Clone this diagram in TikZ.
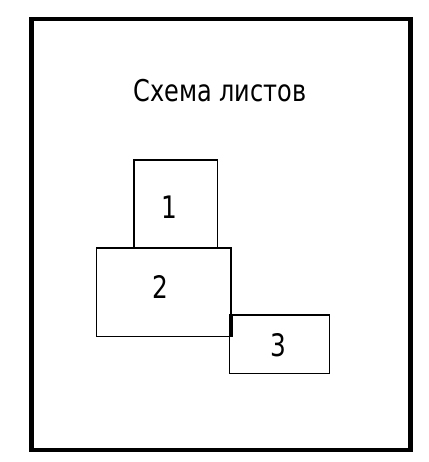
\documentclass[tikz,border=0pt]{standalone}
\usepackage{fontspec}
\setmainfont{DejaVu Sans}[FakeStretch=0.8]
\begin{document}
\begin{tikzpicture}[x=1pt,y=-1pt,
  sheet/.style={draw=black,line width=1.5pt,inner sep=0pt,anchor=north west},
  lbl/.style={font=\fontsize{31}{32}\selectfont,inner sep=0pt}]
\useasboundingbox (0,0) rectangle (428,462);
\fill[white] (0,0) rectangle (428,462);
\draw[line width=4.6pt] (31.7,19.2) rectangle (410.5,450);
\node[inner sep=0pt,font=\fontsize{30}{32}\selectfont] (title) at (220,91) {Схема листов};
\node[sheet,minimum width=83.4pt,minimum height=87.7pt] (s1) at (133.3,159.3) {};
\node[sheet,minimum width=134.6pt,minimum height=88.7pt] (s2) at (95.7,247) {};
\node[sheet,minimum width=100pt,minimum height=58.4pt] (s3) at (228.7,314.3) {};
\draw[line width=3pt] (s2.north east |- s3.north west) -- (s2.south east);
\node[lbl] (n1) at (169,207) {1};
\node[lbl] (n2) at (160,287) {2};
\node[lbl] (n3) at (278,345) {3};
\end{tikzpicture}
\end{document}
